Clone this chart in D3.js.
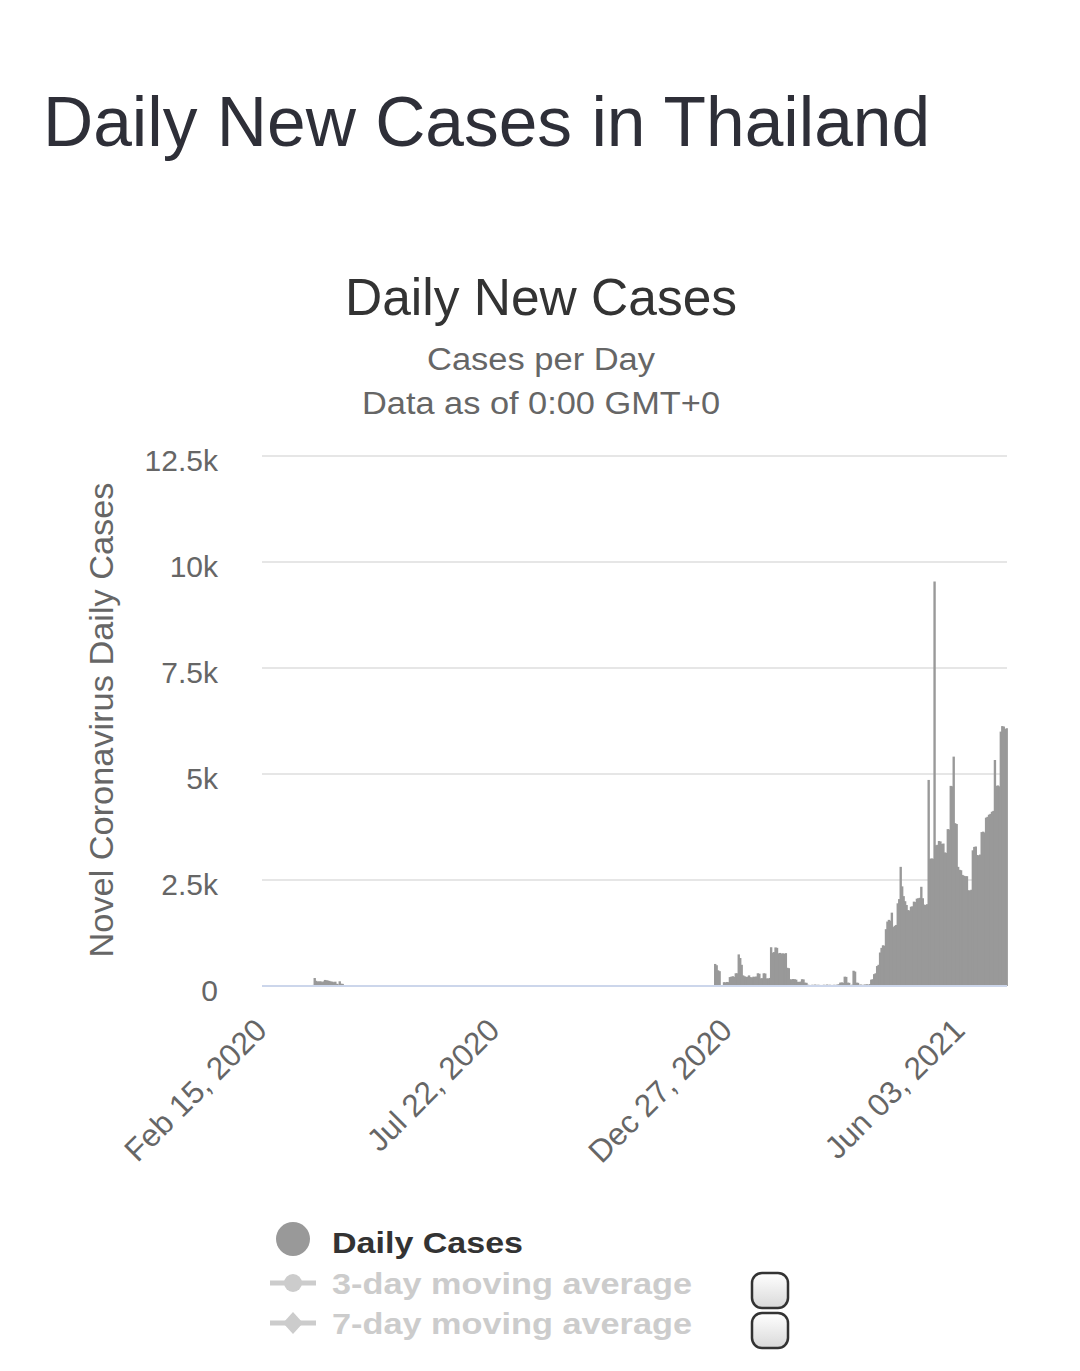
<!DOCTYPE html>
<html>
<head>
<meta charset="utf-8">
<script src="https://cdn.jsdelivr.net/npm/d3@7"></script>
<style>
  html, body { margin: 0; padding: 0; background: #ffffff; }
  svg { display: block; font-family: "Liberation Sans", Arial, Helvetica, sans-serif; }
</style>
</head>
<body>
<svg id="chart" width="1080" height="1371"></svg>
<script>
// ---------------- DATA ----------------
const pageTitle = "Daily New Cases in Thailand";
const chartTitle = "Daily New Cases";
const subtitleLines = ["Cases per Day", "Data as of 0:00 GMT+0"];
const yAxisTitle = "Novel Coronavirus Daily Cases";
const startDate = "2020-02-15";
const tickEvery = 158;
const yTickValues = [0, 2500, 5000, 7500, 10000, 12500];
const yTickLabels = ["0", "2.5k", "5k", "7.5k", "10k", "12.5k"];
const legendItems = ["Daily Cases", "3-day moving average", "7-day moving average"];

// daily new cases, one value per day, month by month
const feb2020 = [0,0,1,0,0,0,1,0,0,0,0,0,2,0,0];
const mar2020 = [1,0,0,4,1,2,0,0,3,6,11,5,7,12,14,10,15,20,18,25,188,122,106,107,111,91,109,143,136,127,120];
const apr2020 = [104,103,89,102,51,38,111,54,50,22,18,15,18,16,15,14,18,16,14,12,10,9,12,20,10,8,7,8,6,5];
const may2020 = [6,3,18,1,3,1,3,1,5,4,0,2,5,1,2,3,3,0,0,0,3,1,2,1,0,0,0,2,1,3,1];
const jun2020 = [1,2,4,1,0,2,0,1,4,0,0,0,0,0,4,2,0,0,3,0,2,0,3,0,2,0,5,0,1,0];
const jul2020 = [3,1,0,6,0,1,4,1,2,0,6,0,0,10,3,0,0,1,0,0,2,2,0,0,4,0,2,0,0,2,0];
const aug2020 = [3,1,0,0,0,4,1,0,4,0,2,0,4,1,0,3,0,5,0,0,3,2,2,0,0,0,6,0,4,0,5];
const sep2020 = [0,1,4,3,7,4,0,1,0,0,3,2,0,0,0,4,0,8,5,3,0,1,0,9,3,0,4,4,1,0];
const oct2020 = [5,2,0,4,8,7,2,2,3,0,8,0,7,7,0,10,7,2,6,3,9,6,3,5,7,0,3,5,0,2,8];
const nov2020 = [3,0,10,2,7,3,8,2,9,0,6,3,1,7,8,5,4,3,6,3,6,0,1,9,5,4,13,12,12,9];
const dec2020 = [10,6,5,8,10,12,7,5,3,6,8,10,14,11,9,11,12,520,490,370,350,8,6,90,85,95,90,210,220,230,215];
const jan2021 = [300,300,745,660,500,250,230,212,220,250,210,200,220,215,225,300,290,180,185,300,295,180,175,190,914,785,800,910,900,770,780];
const feb2021 = [765,770,760,775,430,420,160,155,165,160,150,100,95,105,160,155,80,75,30,25,20,30,25,35,20,30,25,20];
const mar2021 = [25,30,20,35,25,30,20,25,30,20,35,40,80,85,75,220,215,80,75,25,30,360,340,80,75,30,35,25,30,35,40];
const apr2021 = [30,45,150,160,280,300,470,500,790,900,960,950,1340,1520,1560,1540,1730,1390,1420,1440,1950,2050,2810,2350,2120,2000,1910,1790,1780,1870];
const may2021 = [1880,1990,1980,2060,2070,2080,2340,2070,1920,1910,1930,4860,3000,3010,3000,9540,3320,3330,3420,3410,3350,3360,3150,3140,3700,3690,4720,4710,5410,3840,3820];
const jun2021 = [2810,2740,2730,2620,2600,2590,2590,2260,2250,2270,3200,3280,3290,3090,3080,3100,3630,3640,3620,3970,3990,4040,4060,4110,4130,5330,4720,4730,4710,6000];
const jul2021 = [6130,6120,6060,6080];

const dailyCases = [].concat(feb2020, mar2020, apr2020, may2020, jun2020, jul2020, aug2020,
  sep2020, oct2020, nov2020, dec2020, jan2021, feb2021, mar2021, apr2021, may2021, jun2021, jul2021);

// ---------------- CHART ----------------
const svg = d3.select("#chart");
const start = d3.timeParse("%Y-%m-%d")(startDate);
const dates = dailyCases.map((_, i) => d3.timeDay.offset(start, i));
const fmt = d3.timeFormat("%b %d, %Y");

const plot = { left: 262, right: 1007, top: 456, bottom: 986 };

const x = d3.scaleBand().domain(d3.range(dailyCases.length)).range([plot.left, plot.right]).padding(0);
const y = d3.scaleLinear().domain([0, 12500]).range([plot.bottom, plot.top]);

// page title
svg.append("text")
  .attr("x", 43).attr("y", 146)
  .attr("font-size", 69.5).attr("fill", "#2e2f38")
  .text(pageTitle);

// chart title + subtitles
svg.append("text")
  .attr("x", 541).attr("y", 315).attr("text-anchor", "middle")
  .attr("font-size", 51.5).attr("fill", "#333333")
  .text(chartTitle);

const subY = [370, 414];
const subW = [228, 358];
subtitleLines.forEach((s, i) => {
  svg.append("text")
    .attr("x", 541).attr("y", subY[i]).attr("text-anchor", "middle")
    .attr("font-size", 31).attr("fill", "#666666")
    .attr("textLength", subW[i]).attr("lengthAdjust", "spacingAndGlyphs")
    .text(s);
});

// grid lines
svg.append("g").attr("class", "grid")
  .selectAll("line").data(yTickValues.filter(v => v > 0)).join("line")
  .attr("x1", plot.left).attr("x2", plot.right)
  .attr("y1", d => y(d)).attr("y2", d => y(d))
  .attr("stroke", "#e6e6e6").attr("stroke-width", 2);

// y axis labels
const yAxis = d3.axisLeft(y).tickValues(yTickValues)
  .tickFormat((d, i) => yTickLabels[i]).tickSize(0).tickPadding(0);
const gy = svg.append("g").attr("transform", `translate(218,0)`).call(yAxis);
gy.select(".domain").remove();
gy.selectAll("text")
  .attr("font-family", "'Liberation Sans', Arial, sans-serif")
  .attr("font-size", 30).attr("fill", "#666666")
  .attr("dy", null).attr("y", 14).attr("x", 0);

// y axis title
svg.append("text")
  .attr("transform", `translate(113,720) rotate(-90)`)
  .attr("text-anchor", "middle")
  .attr("font-size", 33).attr("fill", "#666666")
  .attr("textLength", 475).attr("lengthAdjust", "spacingAndGlyphs")
  .text(yAxisTitle);

// bars
svg.append("g").selectAll("rect").data(dailyCases).join("rect")
  .attr("x", (d, i) => x(i))
  .attr("width", x.bandwidth() + 0.9)
  .attr("y", d => y(d))
  .attr("height", d => plot.bottom - y(d))
  .attr("fill", "#999999");

// x axis
const tickIdx = d3.range(0, dailyCases.length, tickEvery);
const xAxis = d3.axisBottom(x).tickValues(tickIdx)
  .tickFormat(i => fmt(dates[i])).tickSize(0).tickPadding(0);
const gx = svg.append("g").attr("transform", `translate(0,${plot.bottom})`).call(xAxis);
gx.select(".domain").attr("stroke", "#ccd6eb").attr("stroke-width", 2)
  .attr("d", `M${plot.left},0H${plot.right}`);
gx.selectAll(".tick text")
  .attr("font-family", "'Liberation Sans', Arial, sans-serif")
  .attr("font-size", 31.5).attr("fill", "#666666")
  .attr("text-anchor", "end")
  .attr("dy", null).attr("y", 0)
  .attr("transform", "translate(6,46) rotate(-45)");

// legend
const lg = svg.append("g");
lg.append("circle").attr("cx", 293).attr("cy", 1239).attr("r", 17).attr("fill", "#999999");
lg.append("text").attr("x", 332).attr("y", 1253)
  .attr("font-size", 30).attr("font-weight", "bold").attr("fill", "#333333")
  .attr("textLength", 191).attr("lengthAdjust", "spacingAndGlyphs")
  .text(legendItems[0]);

lg.append("line").attr("x1", 270).attr("x2", 316).attr("y1", 1283).attr("y2", 1283)
  .attr("stroke", "#cccccc").attr("stroke-width", 5);
lg.append("circle").attr("cx", 293).attr("cy", 1283).attr("r", 9).attr("fill", "#cccccc");
lg.append("text").attr("x", 332).attr("y", 1294)
  .attr("font-size", 30).attr("font-weight", "bold").attr("fill", "#cccccc")
  .attr("textLength", 360).attr("lengthAdjust", "spacingAndGlyphs")
  .text(legendItems[1]);

lg.append("line").attr("x1", 270).attr("x2", 316).attr("y1", 1323).attr("y2", 1323)
  .attr("stroke", "#cccccc").attr("stroke-width", 5);
lg.append("path").attr("d", "M293,1312L303,1323L293,1334L283,1323Z").attr("fill", "#cccccc");
lg.append("text").attr("x", 332).attr("y", 1334)
  .attr("font-size", 30).attr("font-weight", "bold").attr("fill", "#cccccc")
  .attr("textLength", 360).attr("lengthAdjust", "spacingAndGlyphs")
  .text(legendItems[2]);

// checkboxes
const defs = svg.append("defs");
const grad = defs.append("linearGradient").attr("id", "cb").attr("x1", 0).attr("y1", 0).attr("x2", 0).attr("y2", 1);
grad.append("stop").attr("offset", "0%").attr("stop-color", "#ffffff");
grad.append("stop").attr("offset", "100%").attr("stop-color", "#d9d9d9");
[1273, 1313].forEach(cy => {
  lg.append("rect").attr("x", 752).attr("y", cy).attr("width", 36).attr("height", 35)
    .attr("rx", 10).attr("ry", 10)
    .attr("fill", "url(#cb)").attr("stroke", "#333333").attr("stroke-width", 2.5);
});
</script>
</body>
</html>
